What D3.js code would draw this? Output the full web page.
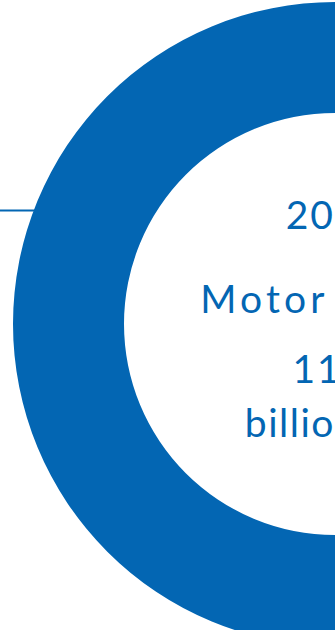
<!DOCTYPE html>
<html>
<head>
<meta charset="utf-8">
<script src="https://cdn.jsdelivr.net/npm/d3@7"></script>
<style>
html,body{margin:0;padding:0;background:#fff;overflow:hidden;}
svg{display:block;}
</style>
</head>
<body>
<svg id="chart" width="335" height="630"></svg>
<script>
// Data
const categories = ["Motor drives"];
const values = [100];
const centerYear = "2019";
const centerCategory = "Motor drives";
const centerValue = "11.6";
const centerUnit = "billion yen";

const W = 335, H = 630;
const cx = 335, cy = 324, outerR = 322, innerR = 211;
const blue = "#0366b3";

const svg = d3.select("#chart");

// leader line
svg.append("line")
  .attr("x1", 0).attr("x2", 40)
  .attr("y1", 210.5).attr("y2", 210.5)
  .attr("stroke", blue).attr("stroke-width", 2);

const pie = d3.pie().sort(null).value(d => d)(values);
const arc = d3.arc().innerRadius(innerR).outerRadius(outerR);

const g = svg.append("g").attr("transform", `translate(${cx},${cy})`);
g.selectAll("path").data(pie).join("path")
  .attr("d", arc)
  .attr("fill", blue);

const lines = [
  {t: centerYear, y: 229, ls: 2, ws: 0},
  {t: centerCategory, y: 313, ls: 4.2, ws: 0},
  {t: centerValue, y: 383, ls: 2, ws: 0},
  {t: centerUnit, y: 437, ls: 1.5, ws: -10}
];
svg.selectAll("text.c").data(lines).join("text")
  .attr("class", "c")
  .attr("x", cx)
  .attr("y", d => d.y)
  .attr("text-anchor", "middle")
  .attr("fill", blue)
  .attr("font-family", "Lato, sans-serif")
  .attr("font-size", 39)
  .attr("letter-spacing", d => d.ls)
  .attr("word-spacing", d => d.ws)
  .text(d => d.t);
</script>
</body>
</html>
